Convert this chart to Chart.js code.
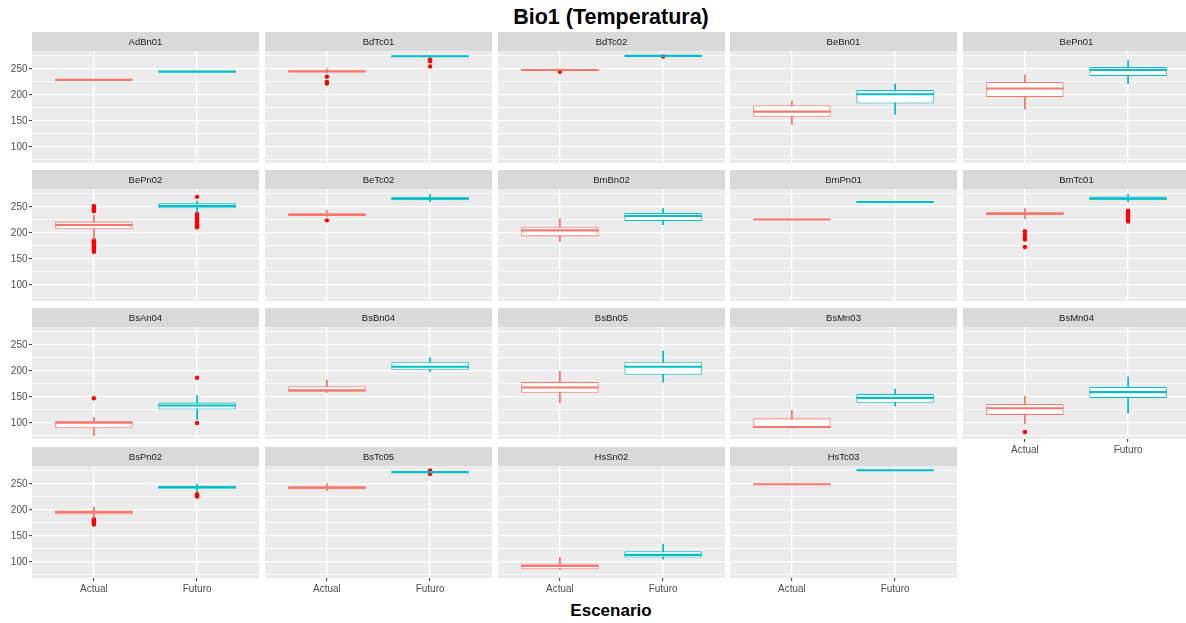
<!DOCTYPE html>
<html><head><meta charset="utf-8">
<script src="https://cdn.jsdelivr.net/npm/chart.js@4.4.1/dist/chart.umd.min.js"></script>
<style>
html,body{margin:0;padding:0;background:#fff;width:1186px;height:623px;overflow:hidden;position:relative;font-family:"Liberation Sans",Arial,sans-serif;}
canvas{position:absolute;}
.t{position:absolute;font-weight:bold;color:#000;white-space:nowrap;transform:translate(-50%,-50%);line-height:1;}
</style></head><body>
<div class="t" style="left:611px;top:18px;font-size:21.5px">Bio1 (Temperatura)</div>
<div class="t" style="left:611px;top:610px;font-size:17px">Escenario</div>
<script>
// ---------- data ----------
const facets = ['AdBn01','BdTc01','BdTc02','BeBn01','BePn01','BePn02','BeTc02','BmBn02','BmPn01','BmTc01','BsAn04','BsBn04','BsBn05','BsMn03','BsMn04','BsPn02','BsTc05','HsSn02','HsTc03'];
const categories = ['Actual','Futuro'];
const yTicks = [75,100,125,150,175,200,225,250,275];

const actualLow  = [229, 243, 247,   143.5, 172.5, 187.5, 232,   183.7, 226, 227.5, 75.6,  159,   138.7, 90,   98.1,  184.4, 237,   84.6,  249.4];
const actualQ1   = [229, 244, 247.5, 158,   196,   207,   232.6, 193.4, 226, 234.6, 89.8,  160,   158,   90.4, 115.5, 191.4, 239.7, 85.9,  249.4];
const actualMed  = [229, 245.5, 248, 168,   212.5, 215.5, 235.2, 205,   226, 237.5, 100.7, 163,   168.3, 92.3, 128.4, 196,   243,   92.3,  249.4];
const actualQ3   = [229, 247, 248.5, 180.5, 225,   222,   237.8, 212,   226, 241,   103.3, 170.8, 179.2, 109,  136.7, 199.2, 245.5, 96.8,  249.4];
const actualHigh = [229, 250, 249.5, 189,   238.8, 234,   243.6, 227.5, 226, 246.8, 111,   182.4, 199.2, 124.5,151.5, 205.6, 250.6, 109,   249.4];

const futuroLow  = [245, 272,   274.5, 162.5, 222,   239,   259.6, 215.9, 259.7, 260,   106.5, 198.5, 178.6, 132.2, 118.8, 234.6, 271.5, 105.2, 276.4];
const futuroQ1   = [245, 273,   275,   183.5, 236.5, 247.5, 263,   223,   259.7, 263,   125.8, 202.4, 192.7, 138.7, 147.7, 241,   272.2, 108.4, 276.4];
const futuroMed  = [245, 274.5, 275.3, 201.5, 248,   252,   266,   232.6, 259.7, 266,   133.5, 208.2, 208.2, 148.3, 159.3, 244.2, 272.8, 113.6, 276.4];
const futuroQ3   = [245, 276,   275.6, 209.5, 253.8, 257,   268.7, 238.4, 259.7, 270,   139.3, 217.8, 217.8, 156,   169.6, 246.8, 273.3, 120.7, 276.4];
const futuroHigh = [245, 276,   276,   221.5, 266,   261.5, 274.5, 246.8, 259.7, 274.5, 152.8, 225.4, 238.4, 165,   188.9, 250,   274,   134.2, 276.4];

const actualOut = [[], [235,225,222], [244.5], [], [],
  [252,250,248,246,244,242,186,184,182,180,178,176,174,172,170,168,166,164],
  [224.3], [], [], [203.5,197,191.5,187.5,173],
  [147.7], [], [], [], [82.7],
  [183,180.5,178,176,174,172], [], [], []];
const futuroOut = [[], [268,265,255], [274], [], [],
  [269.5,237,234,231,228,225,222,219,216,213,211],
  [], [], [], [243,240,237,234,230,226,222],
  [187,100], [], [], [], [],
  [230.5,228,226], [276,274.5,271,269], [], []];

// ---------- layout / style ----------
const Y_MIN = 69.2, Y_MAX = 284.6;
const COL_LEFT = [32, 265, 498, 730, 963];
const ROW_TOP = [32, 170, 308, 447];
const PANEL_W = 227, STRIP_H = 19, PLOT_H = 112, AXIS_W = 32, AXIS_H = 22;
const COLORS = ['#F8766D', '#00BFC4'];
const FONT = '"Liberation Sans", Arial, sans-serif';

const panelPlugin = {
  id: 'panel',
  beforeDraw(chart, args, opts) {
    const {ctx, chartArea: a} = chart;
    ctx.save();
    ctx.fillStyle = '#EBEBEB';
    ctx.fillRect(a.left, a.top, a.right - a.left, a.bottom - a.top);
    ctx.fillStyle = '#D9D9D9';
    ctx.fillRect(a.left, a.top - STRIP_H, a.right - a.left, STRIP_H);
    ctx.fillStyle = '#1A1A1A';
    ctx.font = '9.5px ' + FONT;
    ctx.textAlign = 'center';
    ctx.textBaseline = 'middle';
    ctx.fillText(opts.title, (a.left + a.right) / 2, a.top - STRIP_H / 2 + 0.5);
    ctx.restore();
  },
  afterDatasetsDraw(chart) {
    const {ctx} = chart;
    const xs = chart.scales.x, ys = chart.scales.y;
    chart.data.datasets.forEach(ds => {
      if (!ds.medians) return;
      ds.data.forEach((pt, i) => {
        const x1 = xs.getPixelForValue(pt.x - 0.375);
        const x2 = xs.getPixelForValue(pt.x + 0.375);
        const y = ys.getPixelForValue(ds.medians[i]);
        ctx.save();
        ctx.strokeStyle = COLORS[i];
        ctx.lineWidth = 2.1;
        ctx.beginPath();
        ctx.moveTo(x1, y);
        ctx.lineTo(x2, y);
        ctx.stroke();
        ctx.restore();
      });
    });
  }
};

function makeChart(idx) {
  const r = Math.floor(idx / 5), c = idx % 5;
  const showY = c === 0;
  const showX = r === 3 || idx === 14;
  const cv = document.createElement('canvas');
  const W = AXIS_W + PANEL_W, H = STRIP_H + PLOT_H + AXIS_H;
  cv.width = W; cv.height = H;
  cv.style.left = (COL_LEFT[c] - AXIS_W) + 'px';
  cv.style.top = ROW_TOP[r] + 'px';
  cv.style.width = W + 'px'; cv.style.height = H + 'px';
  document.body.appendChild(cv);

  const outliers = [];
  actualOut[idx].forEach(v => outliers.push({x: 1, y: v}));
  futuroOut[idx].forEach(v => outliers.push({x: 2, y: v}));

  new Chart(cv, {
    type: 'bar',
    data: {
      datasets: [
        {
          type: 'scatter',
          data: outliers,
          pointRadius: 2.2,
          pointHoverRadius: 2.2,
          pointBackgroundColor: '#FF0000',
          pointBorderWidth: 0,
          order: 3
        },
        {
          type: 'bar',
          data: [{x: 1, y: [actualLow[idx], actualHigh[idx]]}, {x: 2, y: [futuroLow[idx], futuroHigh[idx]]}],
          backgroundColor: COLORS,
          borderWidth: 0,
          barThickness: 1.1,
          grouped: false,
          order: 2
        },
        {
          type: 'bar',
          data: [{x: 1, y: [actualQ1[idx], actualQ3[idx]]}, {x: 2, y: [futuroQ1[idx], futuroQ3[idx]]}],
          medians: [actualMed[idx], futuroMed[idx]],
          backgroundColor: '#FFFFFF',
          borderColor: COLORS,
          borderWidth: 1.1,
          borderSkipped: false,
          barPercentage: 0.75,
          categoryPercentage: 1,
          grouped: false,
          order: 1
        }
      ]
    },
    options: {
      responsive: false,
      animation: false,
      devicePixelRatio: 1,
      events: [],
      layout: {autoPadding: false, padding: {top: STRIP_H, left: 0, right: 0, bottom: 0}},
      plugins: {legend: {display: false}, tooltip: {enabled: false}, panel: {title: facets[idx]}},
      scales: {
        x: {
          type: 'linear', min: 0.4, max: 2.6, bounds: 'data', offset: false,
          afterBuildTicks: s => { s.ticks = categories.map((cat, i) => ({value: i + 1})); },
          afterFit: s => { s.height = AXIS_H; },
          ticks: {display: showX, autoSkip: false, maxRotation: 0, padding: 2,
                  color: '#4D4D4D', font: {family: FONT, size: 10},
                  callback: v => categories[Math.round(v) - 1] || ''},
          grid: {offset: false, color: '#FFFFFF', lineWidth: 1.3, drawTicks: showX, tickLength: 3,
                 tickColor: '#333333', tickWidth: 1},
          border: {display: false}
        },
        y: {
          type: 'linear', min: Y_MIN, max: Y_MAX, bounds: 'data',
          afterBuildTicks: s => { s.ticks = yTicks.map(v => ({value: v})); },
          afterFit: s => { s.width = AXIS_W; },
          ticks: {display: showY, autoSkip: false, padding: 1.5, color: '#4D4D4D', font: {family: FONT, size: 10},
                  callback: v => (v % 50 === 0 ? String(v) : '')},
          grid: {offset: false, color: '#FFFFFF',
                 lineWidth: ctx => (ctx.tick && ctx.tick.value % 50 === 0 ? 1.3 : 0.7),
                 drawTicks: showY, tickLength: 3, tickWidth: 1,
                 tickColor: ctx => (ctx.tick && ctx.tick.value % 50 === 0 ? '#333333' : 'rgba(0,0,0,0)')},
          border: {display: false}
        }
      }
    },
    plugins: [panelPlugin]
  });
}

facets.forEach((f, i) => makeChart(i));
</script>
</body></html>
